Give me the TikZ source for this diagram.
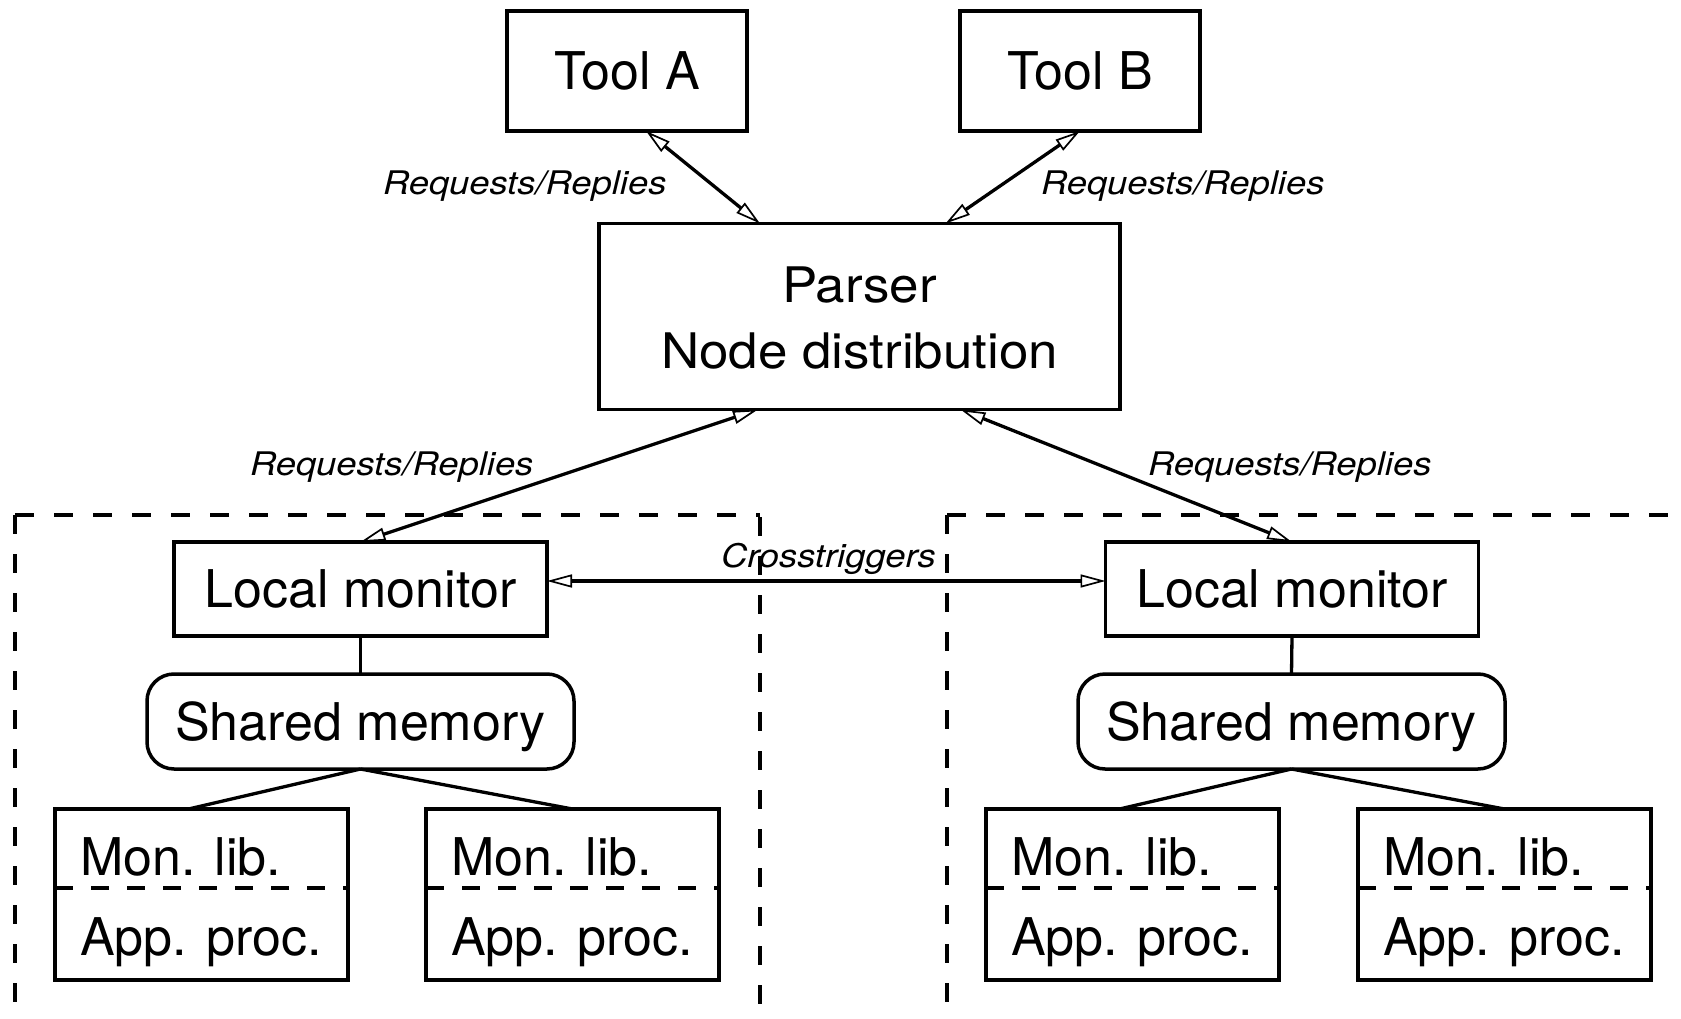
\documentclass[tikz,border=0pt]{standalone}
\usepackage{fontspec}
\setmainfont{TeX Gyre Heros}
\newfontfamily\labelfont[FakeStretch=1.12]{TeX Gyre Heros}
\newfontfamily\parserfont[FakeStretch=1.08]{TeX Gyre Heros}
\usetikzlibrary{arrows.meta}

\tikzset{
  every node/.style={inner sep=0pt, outer sep=0pt},
  box/.style={draw, line width=3.5pt, font=\fontsize{52}{62}\selectfont, text depth=0pt},
  memory/.style={box, rounded corners=27pt, minimum width=427pt, minimum height=95pt},
  monitor/.style={box, minimum width=373pt, minimum height=94pt},
  procbox/.style={box, minimum width=293pt, minimum height=171pt},
  tool/.style={box, minimum width=240pt, minimum height=120pt},
  ptext/.style={anchor=base, font=\parserfont\fontsize{49}{60}\selectfont},
  lbl/.style={anchor=base west, font=\labelfont\itshape\fontsize{32.5}{39}\selectfont},
  libtext/.style={anchor=base west, font=\fontsize{52}{62}\selectfont},
  link/.style={line width=3.3pt},
  opentip/.tip={Triangle[open, length=25pt, width=13pt, line width=1.7pt]},
  dualarrow/.style={line width=3.3pt, opentip-opentip},
  region/.style={line width=4pt, dash pattern=on 19pt off 20pt},
  divider/.style={line width=3.5pt, dash pattern=on 18pt off 18pt},
}

\begin{document}
\begin{tikzpicture}[x=1pt, y=-1pt]
  \fill[white] (0,0) rectangle (1681,1019);
  \useasboundingbox (0,0) rectangle (1681,1019);

  % node groups (dashed outlines)
  \draw[region] (15,515) -- (15,1030);
  \draw[region] (15,515) -- (760,515);
  \draw[region] (760,517) -- (760,1030);
  \draw[region] (947,515) -- (947,1030);
  \draw[region] (947,515) -- (1690,515);

  % tools and parser
  \node[tool] (toolA) at (627,71) {Tool A};
  \node[tool] (toolB) at (1080,71) {Tool B};
  \node[box, minimum width=521pt, minimum height=186pt] (parser) at (859.5,316.5) {};
  \node[ptext] (parser-l1) at ([yshift=-78.5pt]parser.north) {Parser};
  \node[ptext] (parser-l2) at ([yshift=-145pt]parser.north) {Node distribution};

  % local monitors and shared memory
  \node[monitor] (lmL) at (360.5,589) {Local monitor};
  \node[monitor] (lmR) at (1292,589) {Local monitor};
  \node[memory] (smL) at (360.5,721.5) {Shared memory};
  \node[memory] (smR) at (1291.5,721.5) {Shared memory};

  % monitored application processes
  \foreach \n/\x in {mlA/201.5, mlB/572.5, mlC/1132.5, mlD/1504.5} {
    \node[procbox] (\n) at (\x,894.5) {};
    \draw[divider] ([yshift=6.5pt]\n.west) -- ([yshift=6.5pt]\n.east);
    \node[libtext] (\n-lib) at ([xshift=25pt, yshift=-66pt]\n.north west) {Mon. lib.};
    \node[libtext] (\n-app) at ([xshift=25pt, yshift=-146pt]\n.north west) {App. proc.};
  }

  % request/reply channels
  \draw[dualarrow] ([xshift=19pt]toolA.south) -- ([xshift=-99.5pt]parser.north);
  \draw[dualarrow] (toolB.south) -- ([xshift=86pt]parser.north);
  \draw[dualarrow] ([xshift=-101.5pt]parser.south) -- (lmL.north);
  \draw[dualarrow] ([xshift=101pt]parser.south) -- (lmR.north);
  \draw[dualarrow] ([yshift=8pt]lmL.east) -- ([yshift=8pt]lmR.west);

  % links to shared memory
  \draw[link] (lmL.south) -- (smL.north);
  \draw[link] (lmR.south) -- (smR.north);
  \draw[link] (smL.south) -- ([xshift=-13pt]mlA.north);
  \draw[link] (smL.south) -- (mlB.north);
  \draw[link] (smR.south) -- ([xshift=-13pt]mlC.north);
  \draw[link] (smR.south) -- (mlD.north);

  % labels
  \node[lbl] (rr1) at (383,195) {Requests/Replies};
  \node[lbl] (rr2) at (1041,195) {Requests/Replies};
  \node[lbl] (rr3) at (250,475) {Requests/Replies};
  \node[lbl] (rr4) at (1148,475) {Requests/Replies};
  \node[lbl] (cross) at (721,567) {Crosstriggers};
\end{tikzpicture}
\end{document}
